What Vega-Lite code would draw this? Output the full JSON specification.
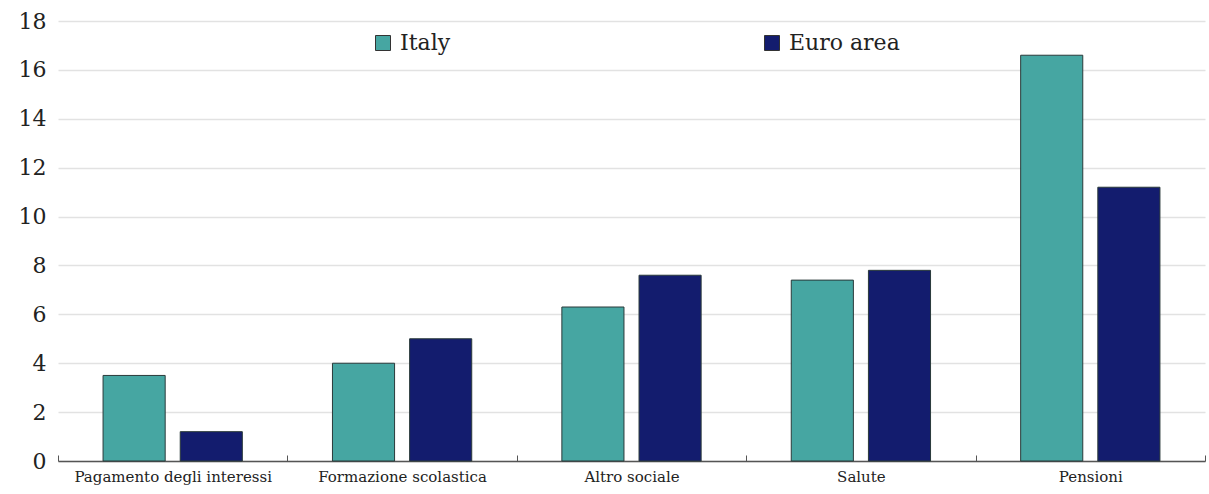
{
  "$schema": "https://vega.github.io/schema/vega-lite/v6.json",
  "width": 1147,
  "height": 440,
  "autosize": {"type": "none"},
  "padding": {"left": 58, "top": 21, "right": 4, "bottom": 33},
  "background": "white",
  "data": {
    "values": [
      {"category": "Pagamento degli interessi", "series": "Italy", "value": 3.5},
      {"category": "Pagamento degli interessi", "series": "Euro area", "value": 1.2},
      {"category": "Formazione scolastica", "series": "Italy", "value": 4.0},
      {"category": "Formazione scolastica", "series": "Euro area", "value": 5.0},
      {"category": "Altro sociale", "series": "Italy", "value": 6.3},
      {"category": "Altro sociale", "series": "Euro area", "value": 7.6},
      {"category": "Salute", "series": "Italy", "value": 7.4},
      {"category": "Salute", "series": "Euro area", "value": 7.8},
      {"category": "Pensioni", "series": "Italy", "value": 16.6},
      {"category": "Pensioni", "series": "Euro area", "value": 11.2}
    ]
  },
  "config": {
    "view": {"stroke": null},
    "font": "DejaVu Serif"
  },
  "mark": {"type": "bar", "stroke": "#2a3a3a", "strokeWidth": 1},
  "encoding": {
    "x": {
      "field": "category",
      "type": "nominal",
      "sort": ["Pagamento degli interessi", "Formazione scolastica", "Altro sociale", "Salute", "Pensioni"],
      "scale": {"paddingInner": 0, "paddingOuter": 0},
      "axis": {
        "title": null,
        "labelAngle": 0,
        "labelFont": "DejaVu Serif",
        "labelFontSize": 15,
        "labelColor": "#222",
        "labelPadding": 14,
        "tickBand": "extent",
        "tickSize": -6,
        "tickColor": "#555",
        "domainColor": "#555",
        "domainWidth": 1.5,
        "grid": false,
        "labelLimit": 300
      }
    },
    "xOffset": {
      "field": "series",
      "type": "nominal",
      "sort": ["Italy", "Euro area"],
      "scale": {"paddingInner": 0.195, "paddingOuter": 0.584}
    },
    "y": {
      "field": "value",
      "type": "quantitative",
      "scale": {"domain": [0, 18], "nice": false},
      "axis": {
        "title": null,
        "values": [0, 2, 4, 6, 8, 10, 12, 14, 16, 18],
        "labelFont": "DejaVu Serif",
        "labelFontSize": 22,
        "labelColor": "#222",
        "labelPadding": 12,
        "ticks": false,
        "domain": false,
        "gridColor": "#e2e2e2",
        "gridWidth": 1.5
      }
    },
    "color": {
      "field": "series",
      "type": "nominal",
      "sort": ["Italy", "Euro area"],
      "scale": {"domain": ["Italy", "Euro area"], "range": ["#46a6a2", "#131c6e"]},
      "legend": {
        "title": null,
        "orient": "none",
        "direction": "horizontal",
        "legendX": 314,
        "legendY": 11,
        "columnPadding": 310,
        "symbolType": "square",
        "symbolSize": 225,
        "symbolStrokeColor": "#333",
        "symbolStrokeWidth": 1,
        "labelFont": "DejaVu Serif",
        "labelFontSize": 22,
        "labelColor": "#222",
        "labelOffset": 6
      }
    }
  }
}
